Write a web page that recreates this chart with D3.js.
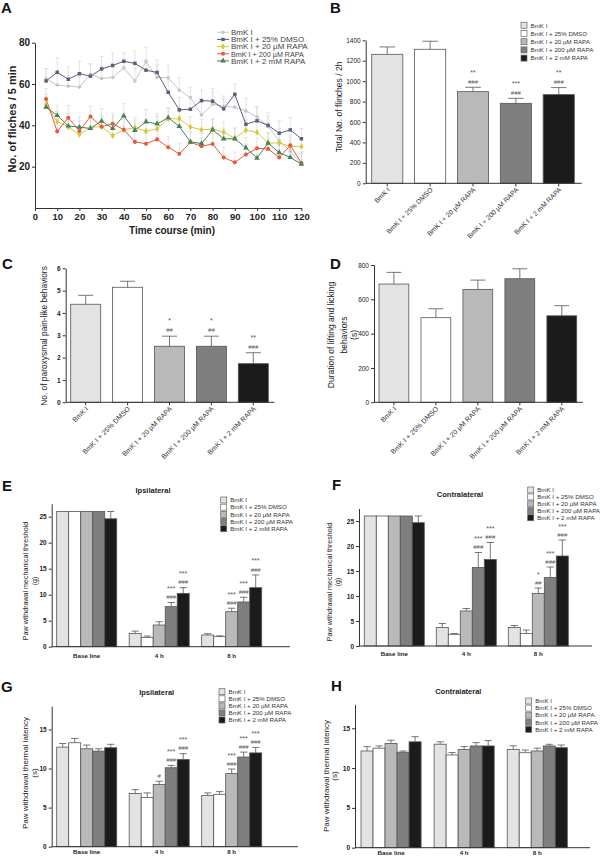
<!DOCTYPE html>
<html><head><meta charset="utf-8">
<script src="https://cdnjs.cloudflare.com/ajax/libs/d3/7.8.5/d3.min.js"></script>
<style>body{margin:0;background:#fff}svg{display:block}</style>
</head><body><svg id="c" width="600" height="859"></svg>
<script>
// ---------- DATA ----------
const groups = ["BmK I", "BmK I + 25% DMSO", "BmK I + 20 µM RAPA", "BmK I + 200 µM RAPA", "BmK I + 2 mM RAPA"];
const timepoints = ["Base line", "4 h", "8 h"];

// Panel A
const timeMin = [5,10,15,20,25,30,35,40,45,50,55,60,65,70,75,80,85,90,95,100,105,110,115,120];
const timeTicks = [0,10,20,30,40,50,60,70,80,90,100,110,120];
const flinchTicks = [20,40,60,80];
const flinchBmK  = [62.5,59.5,59,58.5,64.7,62.7,63.2,67.8,61.5,70.8,63.2,63,57,53.5,45,50.2,49.2,48.8,47,44,39.5,32.5,27.5,21.3];
const flinchDMSO = [61.5,65.7,62.3,65,63.8,67.3,69,71,70,66.7,65.6,56,47.5,47.8,52,51.7,48,55,40.5,42.2,40,36.2,37.8,33.5];
const flinch20   = [50,41.8,39.2,35.6,38.9,39.5,35,37.9,38.8,37.2,38.3,43.2,43.2,39.2,37.9,38.2,36.7,33.8,37.6,36.6,31.5,31.5,29.8,29.8];
const flinch200  = [52.7,37.1,43.7,37.3,44.3,39.3,40.8,37.9,32,31.1,33.2,29.4,26.2,31.8,29.9,31,24.4,22.1,25.9,28.9,28.6,24.5,30.3,21.8];
const flinch2mM  = [48.8,44.8,39.7,39.1,38.5,42.1,38.5,44.6,37.6,41.7,40.7,43.7,39.5,32,31.2,37.8,33.5,33.5,29.1,24.2,31.4,26.8,24.5,21.2];
const errBmK  = [5,6,5,5,5,6,5,4,6,7,6,6,6,5,6,6,5,6,6,5,5,6,5,6];
const errDMSO = [6,7,6,6,6,6,6,4,6,5,6,6,6,6,5,6,5,5,6,7,6,6,6,5];
const err20   = [5,5,5,4,5,5,5,6,5,6,6,5,5,5,5,5,5,5,5,5,5,5,5,4];
const err200  = [5,6,6,5,5,5,5,5,5,5,5,5,5,5,4,5,5,5,5,5,5,5,5,5];
const err2mM  = [4,5,6,5,5,6,6,6,5,6,5,5,5,5,5,5,5,5,5,5,5,5,5,5];

// Panel B
const totalFlinch = [1263, 1312, 897, 783, 868];
const totalFlinchErr = [72, 79, 43, 49, 69];
const totalTicks = [0,200,400,600,800,1000,1200,1400];
const annB = [[2,"**","###"],[3,"***","###"],[4,"**","###"]];

// Panel C
const paroxysmal = [4.39, 5.15, 2.51, 2.51, 1.73];
const paroxysmalErr = [0.40, 0.27, 0.45, 0.45, 0.49];
const paroxTicks = [0,1,2,3,4,5,6];
const annC = [[2,"*","##"],[3,"*","##"],[4,"**","###"]];

// Panel D
const lifting = [689, 493, 658, 720, 504];
const liftingErr = [68, 52, 54, 58, 59];
const liftTicks = [0,200,400,600,800];

// Panel E
const mechIpsi = [[26,26,26,26,24.6],[2.56,1.8,4.17,7.7,10.26],[2.25,1.93,6.73,8.6,11.35]];
const mechIpsiErr = [[0,0,0,0,1.4],[0.44,0.25,0.63,0.8,1.09],[0.25,0.17,0.67,0.9,2.45]];
const mechTicks = [0,5,10,15,20,25];
const annE = [[1,3,"***","###"],[1,4,"***","###"],[2,2,"***","###"],[2,3,"***","###"],[2,4,"***","###"]];

// Panel F
const mechContra = [[26,26,26,26,24.66],[3.68,2.34,7.0,15.7,17.3],[3.7,2.5,10.5,13.7,18]];
const mechContraErr = [[0,0,0,0,1.34],[0.82,0.16,0.5,3.0,3.4],[0.4,0.7,1.1,2.1,3.2]];
const annF = [[1,3,"***","###"],[1,4,"***","###"],[2,2,"*","##"],[2,3,"***","###"],[2,4,"***","###"]];

// Panel G
const thermIpsi = [[12.74,13.3,12.53,12.23,12.66],[6.8,6.29,7.95,10.1,11.17],[6.55,6.7,9.35,11.47,12.0]];
const thermIpsiErr = [[0.46,0.55,0.47,0.3,0.44],[0.5,0.59,0.42,0.3,0.73],[0.33,0.35,0.59,0.63,0.7]];
const thermTicks = [0,5,10,15];
const annG = [[1,2,"","#"],[1,3,"***","###"],[1,4,"***","###"],[2,2,"***","###"],[2,3,"***","###"],[2,4,"***","###"]];

// Panel H
const thermContra = [[12.15,12.5,13.1,12.0,13.3],[13.0,11.65,12.35,12.78,12.78],[12.35,11.93,12.15,12.78,12.56]];
const thermContraErr = [[0.55,0.28,0.4,0.15,0.65],[0.3,0.3,0.35,0.42,0.67],[0.45,0.34,0.35,0.21,0.34]];

// ---------- STYLE ----------
const FONT = '"Liberation Sans", Arial, Helvetica, sans-serif';
const fills = ["#e3e3e3","#ffffff","#b9b9b9","#7f7f7f","#1b1b1b"];
const lineColors = ["#c6c6c6","#5a5d7c","#d6c83a","#e8593b","#4b7f58"];
const AX = "#333";
const fmtInt = d3.format("d");

const svg = d3.select("#c").attr("font-family", FONT);

function styleAxis(sel, fs, fw) {
  sel.attr("font-family", FONT);
  sel.select(".domain").attr("stroke", AX).attr("stroke-width", 1);
  sel.selectAll(".tick line").attr("stroke", AX);
  sel.selectAll(".tick text").attr("font-size", fs).attr("font-weight", fw).attr("fill", "#222");
}
function letter(t, x, y) {
  svg.append("text").attr("x", x).attr("y", y).attr("font-size", 15).attr("font-weight", "bold").attr("fill", "#111").text(t);
}
function yLabel(lines, xs, cy, fs, fw) {
  lines.forEach((t, i) => svg.append("text")
    .attr("transform", `translate(${xs[i]},${cy}) rotate(-90)`)
    .attr("text-anchor", "middle").attr("font-size", fs).attr("font-weight", fw || "normal")
    .attr("fill", "#222").text(t));
}
function boxLegend(x, y, dy, fs) {
  groups.forEach((t, i) => {
    svg.append("rect").attr("x", x).attr("y", y + i * dy - 3).attr("width", 6).attr("height", 6)
      .attr("fill", fills[i]).attr("stroke", "#666").attr("stroke-width", 0.7);
    svg.append("text").attr("x", x + 9.5).attr("y", y + i * dy + 2.3).attr("font-size", fs).attr("fill", "#333").text(t);
  });
}
function drawBar(g, x, w, yv, ye, y0, fill, cap) {
  g.append("rect").attr("x", x).attr("y", yv).attr("width", w).attr("height", y0 - yv)
    .attr("fill", fill).attr("stroke", "#555").attr("stroke-width", 0.8);
  if (ye < yv - 0.3) {
    const cx = x + w / 2;
    g.append("line").attr("x1", cx).attr("x2", cx).attr("y1", yv).attr("y2", ye).attr("stroke", "#555").attr("stroke-width", 0.8);
    g.append("line").attr("x1", cx - cap / 2).attr("x2", cx + cap / 2).attr("y1", ye).attr("y2", ye).attr("stroke", "#555").attr("stroke-width", 0.8);
  }
}
function annot(g, cx, ye, stars, hashes, off) {
  if (hashes) g.append("text").attr("x", cx).attr("y", ye - off[0]).attr("text-anchor", "middle")
    .attr("font-size", 6).attr("fill", "#555").text(hashes);
  if (stars) g.append("text").attr("x", cx).attr("y", ye - off[1]).attr("text-anchor", "middle")
    .attr("font-size", 7).attr("fill", "#555").text(stars);
}

// ---------- PANEL A ----------
(function () {
  const g = svg.append("g");
  const x = d3.scaleLinear().domain([0, 120]).range([35, 301.4]);
  const y = d3.scaleLinear().domain([0, 80]).range([208, 42.7]);
  const series = [flinchBmK, flinchDMSO, flinch20, flinch200, flinch2mM];
  const errs = [errBmK, errDMSO, err20, err200, err2mM];
  const syms = [d3.symbolCircle, d3.symbolSquare, d3.symbolDiamond, d3.symbolCircle, d3.symbolTriangle];
  const symSize = [10, 12, 14, 13, 14];
  series.forEach((s, k) => s.forEach((v, i) => {
    const cx = x(timeMin[i]), y1 = y(v), y2 = y(v + errs[k][i]);
    g.append("line").attr("x1", cx).attr("x2", cx).attr("y1", y1).attr("y2", y2).attr("stroke", "#d8d8d8").attr("stroke-width", 0.7);
    g.append("line").attr("x1", cx - 2).attr("x2", cx + 2).attr("y1", y2).attr("y2", y2).attr("stroke", "#d8d8d8").attr("stroke-width", 0.7);
  }));
  const line = d3.line().x((d, i) => x(timeMin[i])).y(d => y(d));
  series.forEach((s, k) => {
    g.append("path").datum(s).attr("d", line).attr("fill", "none").attr("stroke", lineColors[k]).attr("stroke-width", 1);
  });
  series.forEach((s, k) => s.forEach((v, i) => {
    g.append("path").attr("d", d3.symbol().type(syms[k]).size(symSize[k])())
      .attr("transform", `translate(${x(timeMin[i])},${y(v)})`).attr("fill", lineColors[k]);
  }));
  g.append("g").attr("transform", "translate(35,0)")
    .call(d3.axisLeft(y).tickValues(flinchTicks).tickSize(3).tickSizeOuter(0).tickPadding(2))
    .call(styleAxis, 10, "bold");
  g.append("g").attr("transform", "translate(0,208)")
    .call(d3.axisBottom(x).tickValues(timeTicks).tickSize(3).tickSizeOuter(0).tickPadding(2))
    .call(styleAxis, 9.5, "bold");
  g.append("text").attr("x", 172).attr("y", 233.5).attr("text-anchor", "middle").attr("font-size", 10)
    .attr("font-weight", "bold").attr("fill", "#222").text("Time course (min)");
  yLabel(["No. of fliches / 5 min"], [15.5], 119, 11, "bold");
  groups.forEach((t, i) => {
    const yy = 32.3 + i * 7.15;
    g.append("line").attr("x1", 217).attr("x2", 229).attr("y1", yy).attr("y2", yy).attr("stroke", lineColors[i]).attr("stroke-width", 1);
    g.append("path").attr("d", d3.symbol().type(syms[i]).size(symSize[i])()).attr("transform", `translate(223,${yy})`).attr("fill", lineColors[i]);
    g.append("text").attr("x", 231).attr("y", yy + 2.8).attr("font-size", i === 3 ? 7.2 : 8).attr("fill", "#444").text(t);
  });
})();

// ---------- SIMPLE BAR PANELS ----------
function simpleBars(o) {
  const g = svg.append("g");
  const y = d3.scaleLinear().domain([0, o.max]).range([o.y0, o.yTop]);
  const x = d3.scaleBand().domain(groups).range([o.b0, o.b1]).paddingInner(o.pad);
  groups.forEach((gr, i) => {
    drawBar(g, x(gr), x.bandwidth(), y(o.values[i]), y(o.values[i] + o.errs[i]), o.y0, fills[i], x.bandwidth() * 0.5);
  });
  (o.ann || []).forEach(a => {
    const i = a[0];
    annot(g, x(groups[i]) + x.bandwidth() / 2, y(o.values[i] + o.errs[i]), a[1], a[2], o.off);
  });
  g.append("g").attr("transform", `translate(${o.ax},0)`)
    .call(d3.axisLeft(y).tickValues(o.ticks).tickFormat(fmtInt).tickSize(3).tickSizeOuter(0).tickPadding(2))
    .call(styleAxis, o.tfs, o.tfw);
  g.append("line").attr("x1", o.ax).attr("x2", o.axEnd).attr("y1", o.y0).attr("y2", o.y0).attr("stroke", AX);
  groups.forEach(gr => {
    const cx = x(gr) + x.bandwidth() / 2;
    g.append("line").attr("x1", cx).attr("x2", cx).attr("y1", o.y0).attr("y2", o.y0 + 3).attr("stroke", AX);
    g.append("text").attr("transform", `translate(${cx + 3},${o.y0 + 7}) rotate(-45)`)
      .attr("text-anchor", "end").attr("font-size", o.xfs).attr("fill", "#333").text(gr);
  });
  yLabel(o.ylab, o.ylx, o.ylc, o.ylfs, "normal");
}

simpleBars({ values: totalFlinch, errs: totalFlinchErr, max: 1400, ticks: totalTicks,
  ax: 365.7, axEnd: 581.7, y0: 183.3, yTop: 40.3, b0: 371.7, b1: 574.3, pad: 0.274,
  tfs: 6.5, tfw: "normal", ann: annB, off: [3.6, 12.6], xfs: 6.8,
  ylab: ["Total No. of flinches / 2h"], ylx: [342], ylc: 107, ylfs: 8.5 });
boxLegend(521, 25.3, 8.2, 6.2);

simpleBars({ values: paroxysmal, errs: paroxysmalErr, max: 6, ticks: paroxTicks,
  ax: 65.7, axEnd: 274.3, y0: 402.3, yTop: 268.3, b0: 70.7, b1: 268.3, pad: 0.284,
  tfs: 6.5, tfw: "bold", ann: annC, off: [3.8, 12.8], xfs: 7,
  ylab: ["No. of paroxysmal pain-like behaviors"], ylx: [46.5], ylc: 336, ylfs: 8.4 });

simpleBars({ values: lifting, errs: liftingErr, max: 800, ticks: liftTicks,
  ax: 374, axEnd: 582.7, y0: 402.3, yTop: 265, b0: 379, b1: 576.7, pad: 0.29,
  tfs: 6.5, tfw: "normal", ann: [], off: [3.8, 12.8], xfs: 7,
  ylab: ["Duration of lifting and licking", "behaviors", "(s)"], ylx: [333.5, 346.5, 357], ylc: 335, ylfs: 8.5 });

// ---------- GROUPED BAR PANELS ----------
function groupedBars(o) {
  const g = svg.append("g");
  const y = d3.scaleLinear().domain([0, o.top]).range([o.y0, o.yTopPx]);
  const x0 = d3.scaleBand().domain(timepoints).range([o.b0, o.b1]).paddingInner(o.pad);
  const x1 = d3.scaleBand().domain(groups).range([0, x0.bandwidth()]);
  timepoints.forEach((tp, t) => groups.forEach((gr, s) => {
    const v = o.values[t][s], e = o.errs[t][s];
    drawBar(g, x0(tp) + x1(gr), x1.bandwidth(), y(v), y(v + e), o.y0, fills[s], x1.bandwidth() * 0.6);
  }));
  (o.ann || []).forEach(a => {
    const t = a[0], s = a[1];
    annot(g, x0(timepoints[t]) + x1(groups[s]) + x1.bandwidth() / 2, y(o.values[t][s] + o.errs[t][s]), a[2], a[3], [3.2, 11.5]);
  });
  g.append("g").attr("transform", `translate(${o.ax},0)`)
    .call(d3.axisLeft(y).tickValues(o.ticks).tickFormat(fmtInt).tickSize(3).tickSizeOuter(0).tickPadding(2))
    .call(styleAxis, 6.5, "bold");
  g.append("line").attr("x1", o.ax).attr("x2", o.axEnd).attr("y1", o.y0).attr("y2", o.y0).attr("stroke", AX);
  timepoints.forEach(tp => {
    g.append("text").attr("x", x0(tp) + x0.bandwidth() / 2).attr("y", o.labY).attr("text-anchor", "middle")
      .attr("font-size", 6.2).attr("font-weight", "bold").attr("fill", "#222").text(tp);
  });
  g.append("text").attr("x", o.title[1]).attr("y", o.title[2]).attr("text-anchor", "middle")
    .attr("font-size", 7.5).attr("font-weight", "bold").attr("fill", "#222").text(o.title[0]);
  boxLegend(o.leg[0], o.leg[1], o.leg[2], 6.2);
  yLabel(o.ylab, o.ylx, o.ylc, o.ylfs, "normal");
}

groupedBars({ values: mechIpsi, errs: mechIpsiErr, top: 27.5, ticks: mechTicks,
  ax: 51.7, axEnd: 290, y0: 646.7, yTopPx: 503.7, b0: 56.7, b1: 261.7, pad: 0.172,
  ann: annE, labY: 657.5, title: ["Ipsilateral", 153, 493], leg: [220.7, 500, 7.17],
  ylab: ["Paw withdrawal mechanical threshold", "(g)"], ylx: [27.5, 36.5], ylc: 581, ylfs: 7.1 });

groupedBars({ values: mechContra, errs: mechContraErr, top: 27.5, ticks: mechTicks,
  ax: 359, axEnd: 592, y0: 646, yTopPx: 508.5, b0: 364.3, b1: 568.3, pad: 0.167,
  ann: annF, labY: 655.5, title: ["Contralateral", 460, 497], leg: [527.7, 490, 6.93],
  ylab: ["Paw withdrawal mechanical threshold", "(g)"], ylx: [332, 339.5], ylc: 582, ylfs: 7.1 });

groupedBars({ values: thermIpsi, errs: thermIpsiErr, top: 18, ticks: thermTicks,
  ax: 51.7, axEnd: 298, y0: 846.7, yTopPx: 706, b0: 56.7, b1: 261.7, pad: 0.172,
  ann: annG, labY: 854, title: ["Ipsilateral", 156.7, 694.5], leg: [219, 691.7, 7.08],
  ylab: ["Paw withdrawal thermal latency", "(s)"], ylx: [27.5, 36.5], ylc: 773, ylfs: 8 });

groupedBars({ values: thermContra, errs: thermContraErr, top: 18, ticks: thermTicks,
  ax: 355, axEnd: 590, y0: 847.7, yTopPx: 704.4, b0: 361, b1: 567.3, pad: 0.178,
  ann: [], labY: 855, title: ["Contralateral", 458.3, 693.5], leg: [525.7, 701, 7.08],
  ylab: ["Paw withdrawal thermal latency", "(s)"], ylx: [328.5, 337], ylc: 776, ylfs: 8 });

letter("A", 1, 12.5); letter("B", 330, 12.5); letter("C", 2, 268.5); letter("D", 330, 268.5);
letter("E", 2, 490.5); letter("F", 332, 490); letter("G", 1, 692); letter("H", 331, 690.5);
</script></body></html>
